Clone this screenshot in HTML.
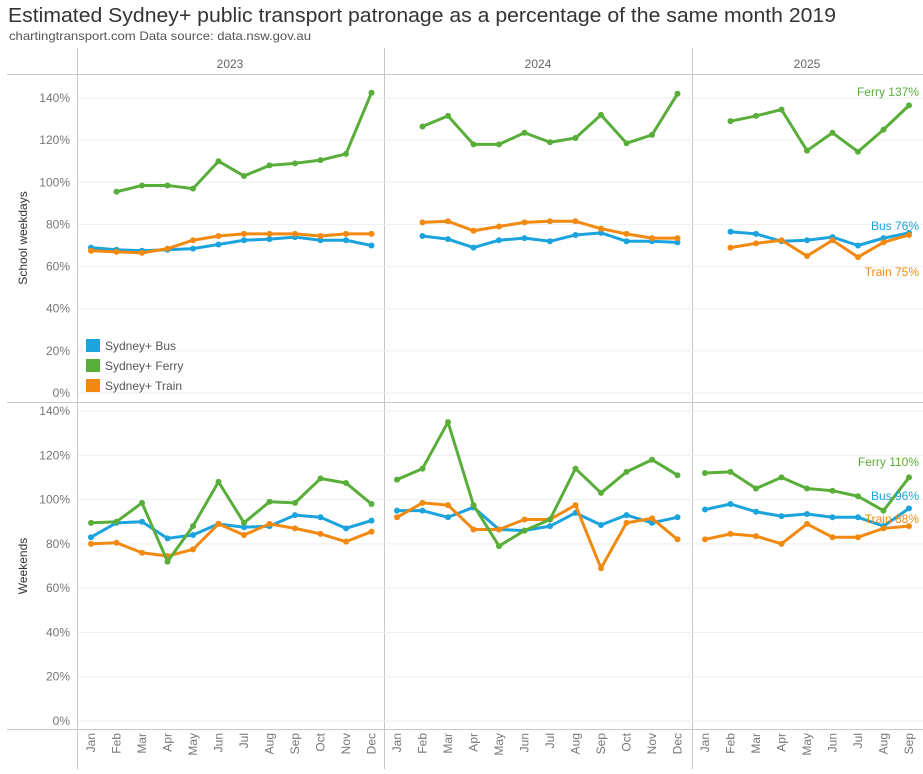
<!DOCTYPE html>
<html><head><meta charset="utf-8"><style>
body{margin:0;background:#fff;font-family:"Liberation Sans",sans-serif;}
svg text{font-family:"Liberation Sans",sans-serif;}
</style></head><body>
<svg id="s" width="923" height="769" xmlns="http://www.w3.org/2000/svg">
<text x="8" y="22" font-size="20" fill="#333" textLength="828" lengthAdjust="spacingAndGlyphs">Estimated Sydney+ public transport patronage as a percentage of the same month 2019</text>
<text x="9" y="40" font-size="12" fill="#555" textLength="302" lengthAdjust="spacingAndGlyphs">chartingtransport.com  Data source: data.nsw.gov.au</text>
<g stroke="#c8c8c8" stroke-width="1">
<line x1="77.5" y1="48" x2="77.5" y2="769"/>
<line x1="384.5" y1="48" x2="384.5" y2="769"/>
<line x1="692.5" y1="48" x2="692.5" y2="769"/>
<line x1="7" y1="74.5" x2="923" y2="74.5"/>
<line x1="7" y1="402.5" x2="923" y2="402.5"/>
<line x1="7" y1="729.5" x2="923" y2="729.5"/>
</g>
<text x="230" y="68" font-size="12" fill="#666" text-anchor="middle">2023</text>
<text x="538" y="68" font-size="12" fill="#666" text-anchor="middle">2024</text>
<text x="807" y="68" font-size="12" fill="#666" text-anchor="middle">2025</text>
<text transform="translate(27,238) rotate(-90)" font-size="12" fill="#333" text-anchor="middle">School weekdays</text>
<text transform="translate(27,566) rotate(-90)" font-size="12" fill="#333" text-anchor="middle">Weekends</text>
<g id="g"></g>
<rect x="86" y="339" width="14" height="13" fill="#1BA3DE"/><text x="105" y="350" font-size="12" fill="#555">Sydney+ Bus</text>
<rect x="86" y="359" width="14" height="13" fill="#59AE3A"/><text x="105" y="370" font-size="12" fill="#555">Sydney+ Ferry</text>
<rect x="86" y="379" width="14" height="13" fill="#F28A12"/><text x="105" y="390" font-size="12" fill="#555">Sydney+ Train</text>
<text x="919" y="96" font-size="12" fill="#59AE3A" text-anchor="end">Ferry 137%</text>
<text x="919" y="230" font-size="12" fill="#1BA3DE" text-anchor="end">Bus 76%</text>
<text x="919" y="276" font-size="12" fill="#F28A12" text-anchor="end">Train 75%</text>
<text x="919" y="466" font-size="12" fill="#59AE3A" text-anchor="end">Ferry 110%</text>
<text x="919" y="500" font-size="12" fill="#1BA3DE" text-anchor="end">Bus 96%</text>
<text x="919" y="523" font-size="12" fill="#F28A12" text-anchor="end">Train 88%</text>
</svg>
<script>
(function(){
var g=document.getElementById('g');var h='';
var TP={y0:393,k:295/140},BT={y0:721,k:310/140};
var cols=[{x:91,n:12},{x:397,n:12},{x:705,n:9}];var dx=25.5;
var M=['Jan','Feb','Mar','Apr','May','Jun','Jul','Aug','Sep','Oct','Nov','Dec'];
[TP,BT].forEach(function(p){for(var v=0;v<=140;v+=20){var y=p.y0-v*p.k;
h+='<line x1="78" x2="923" y1="'+y+'" y2="'+y+'" stroke="#eee"/>';
h+='<text x="70" y="'+(y+4)+'" font-size="12" fill="#777" text-anchor="end">'+v+'%</text>';}});
cols.forEach(function(c){for(var i=0;i<c.n;i++){var x=c.x+i*dx;
h+='<text transform="translate('+(x+4)+',733) rotate(-90)" font-size="12" fill="#777" text-anchor="end">'+M[i]+'</text>';}});
var D={
t:{
F:[[null,95.5,98.5,98.5,97,110,103,108,109,110.5,113.5,142.5],[null,126.5,131.5,118,118,123.5,119,121,132,118.5,122.5,142],[null,129,131.5,134.5,115,123.5,114.5,125,136.5]],
B:[[69,68,67.5,68,68.5,70.5,72.5,73,74,72.5,72.5,70],[null,74.5,73,69,72.5,73.5,72,75,76,72,72,71.5],[null,76.5,75.5,72,72.5,74,70,73.5,76]],
T:[[67.5,67,66.5,68.5,72.5,74.5,75.5,75.5,75.5,74.5,75.5,75.5],[null,81,81.5,77,79,81,81.5,81.5,78,75.5,73.5,73.5],[null,69,71,72.5,65,72.5,64.5,71.5,75]]},
b:{
F:[[89.5,90,98.5,72,88,108,89.5,99,98.5,109.5,107.5,98],[109,114,135,97.5,79,86,91,114,103,112.5,118,111],[112,112.5,105,110,105,104,101.5,95,110]],
B:[[83,89.5,90,82.5,84,89,87.5,88,93,92,87,90.5],[95,95,92,96.5,86.5,86,88,94,88.5,93,89.5,92],[95.5,98,94.5,92.5,93.5,92,92,88,96]],
T:[[80,80.5,76,74.5,77.5,89,84,89,87,84.5,81,85.5],[92,98.5,97.5,86.5,86.5,91,91,97.5,69,89.5,91.5,82],[82,84.5,83.5,80,89,83,83,87,88]]}};
var C={B:'#1BA3DE',F:'#59AE3A',T:'#F28A12'};
[['t',TP],['b',BT]].forEach(function(kp){var k=kp[0],p=kp[1];['B','T','F'].forEach(function(s){D[k][s].forEach(function(arr,ci){
var pts=[];arr.forEach(function(v,i){if(v!=null)pts.push([cols[ci].x+i*dx,p.y0-v*p.k]);});
h+='<polyline fill="none" stroke="'+C[s]+'" stroke-width="3" stroke-linejoin="round" points="'+pts.map(function(a){return a.join(',');}).join(' ')+'"/>';
pts.forEach(function(a){h+='<circle cx="'+a[0]+'" cy="'+a[1]+'" r="3" fill="'+C[s]+'"/>';});});});});
g.innerHTML=h;
})();
</script>
</body></html>
